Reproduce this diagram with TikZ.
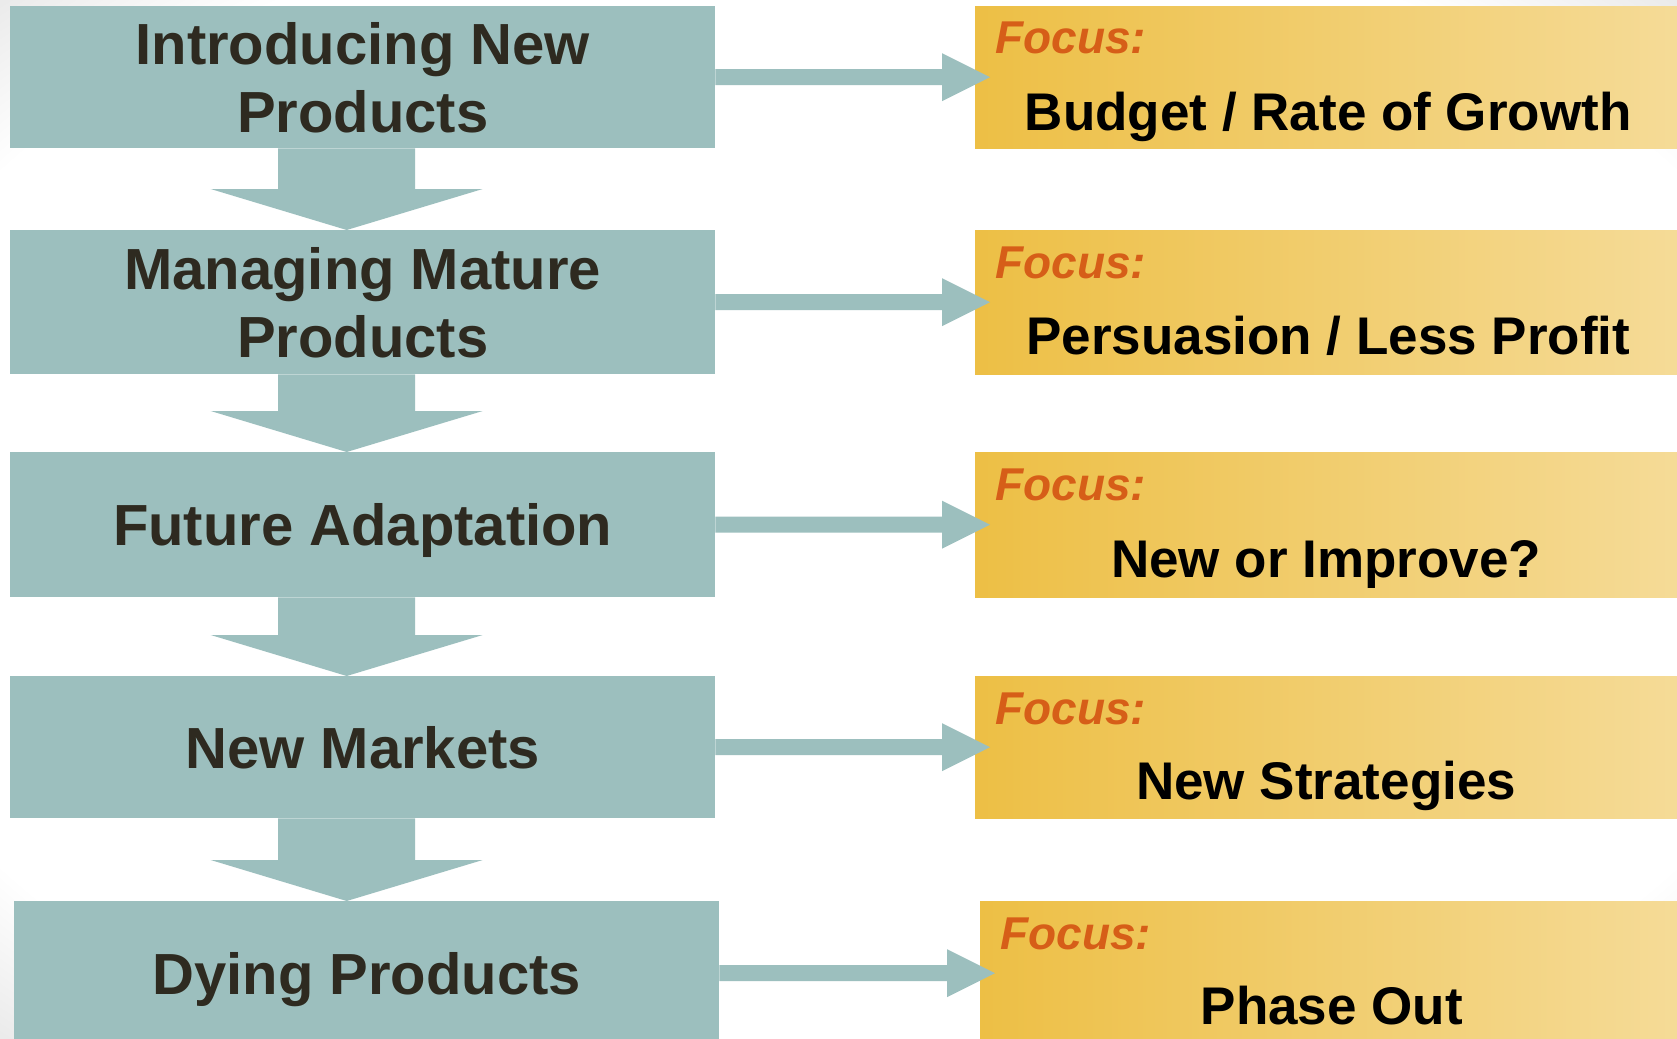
\documentclass[tikz,border=0pt]{standalone}
\usepackage{fontspec}
\setmainfont{Liberation Sans}
\usetikzlibrary{calc}
\definecolor{tealbox}{HTML}{9CBFBE}
\definecolor{goldL}{HTML}{EDBF45}
\definecolor{goldR}{HTML}{F5DB97}
\definecolor{focusc}{HTML}{D65E18}
\definecolor{darktxt}{HTML}{2E2A20}
\pgfdeclareradialshading{vign}{\pgfpoint{0bp}{0bp}}{color(0bp)=(white); color(30bp)=(white); color(36bp)=(black!9); color(50bp)=(black!9)}
\begin{document}
\begin{tikzpicture}[x=1pt,y=-1pt,
  stage/.style={fill=tealbox, draw=none, anchor=north west, inner sep=0pt,
    align=center, font=\fontsize{58}{68}\selectfont\bfseries, text=darktxt,
    text depth=0pt, minimum width=705pt, minimum height=142pt},
  goldbox/.style={anchor=north west, inner sep=0pt, left color=goldL,
    right color=goldR, draw=none, minimum height=142pt},
  focuslbl/.style={anchor=base west, inner sep=0pt, text=focusc,
    font=\fontsize{46}{50}\selectfont\bfseries\itshape},
  mainlbl/.style={anchor=base, inner sep=0pt, text=black,
    font=\fontsize{53}{60}\selectfont\bfseries},
  blockarrow/.style={fill=tealbox, draw=none}
]
\useasboundingbox (0,0) rectangle (1677,1038);
\shade[shading=vign] (0,0) rectangle (1677,1038);

% left stages
\node[stage] (L1) at (10,6)   {Introducing New\\Products};
\node[stage, minimum height=144pt] (L2) at (10,230) {Managing Mature\\Products};
\node[stage, minimum height=145pt] (L3) at (10,452) {Future Adaptation};
\node[stage] (L4) at (10,676) {New Markets};
\node[stage, minimum height=144pt] (L5) at (14,901) {Dying Products};

% right focus boxes
\node[goldbox, minimum width=702pt] (Y1) at (975,6) {};
\node[goldbox, minimum width=702pt, minimum height=144pt] (Y2) at (975,230) {};
\node[goldbox, minimum width=702pt, minimum height=145pt] (Y3) at (975,452) {};
\node[goldbox, minimum width=702pt] (Y4) at (975,676) {};
\node[goldbox, minimum width=697pt, minimum height=144pt] (Y5) at (980,901) {};

% focus labels
\foreach \i in {1,...,5}{
  \node[focuslbl] (F\i) at ($(Y\i.north west)+(20,48)$) {Focus:};
}
\node[mainlbl] (M1) at ($(Y1.north)+(2,125)$) {Budget / Rate of Growth};
\node[mainlbl] (M2) at ($(Y2.north)+(2,124)$) {Persuasion / Less Profit};
\node[mainlbl] (M3) at ($(Y3.north)+(0,125)$) {New or Improve?};
\node[mainlbl] (M4) at ($(Y4.north)+(0,123)$) {New Strategies};
\node[mainlbl] (M5) at ($(Y5.north)+(3,123)$) {Phase Out};

% right block arrows
\foreach \i in {1,...,5}{
  \path[blockarrow] let \p1=(L\i.east), \p2=(Y\i.west) in
    (\x1,\y1+8pt) -- (\x2-33pt,\y1+8pt) -- (\x2-33pt,\y1+24pt) --
    (\x2+15pt,\y1) -- (\x2-33pt,\y1-24pt) -- (\x2-33pt,\y1-8pt) --
    (\x1,\y1-8pt) -- cycle;
}

% down block arrows
\foreach \i/\j in {1/2,2/3,3/4,4/5}{
  \path[blockarrow] let \p1=(L\i.south), \p2=(L\j.north) in
    (\x1-16pt-68.5pt,\y1) -- (\x1-16pt+68.5pt,\y1) --
    (\x1-16pt+68.5pt,\y2+41pt) -- (\x1-16pt+136pt,\y2+41pt) --
    (\x1-16pt,\y2) -- (\x1-16pt-136pt,\y2+41pt) --
    (\x1-16pt-68.5pt,\y2+41pt) -- cycle;
}
\end{tikzpicture}
\end{document}
